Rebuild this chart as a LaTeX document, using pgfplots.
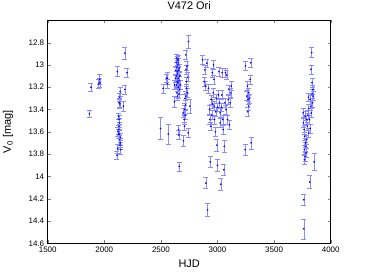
\documentclass[border=0pt]{standalone}
\usepackage{pgfplots}
\usepackage{pgfplotstable}
\pgfplotsset{compat=1.18}
\usepackage{fontspec}
\setmainfont{Liberation Sans}
\pgfplotstableread{
x y e
1868 13.44 0.03
1882 13.20 0.035
1950 13.17 0.04
1958 13.13 0.045
1962 13.16 0.04
2115 13.06 0.045
2182 12.895 0.05
2200 13.07 0.04
2182 13.22 0.04
2168 13.37 0.045
2140 13.24 0.04
2136 13.29 0.04
2130 13.34 0.04
2138 13.35 0.04
2127 13.46 0.03
2130 13.49 0.04
2133 13.52 0.04
2127 13.58 0.04
2124 13.62 0.04
2133 13.62 0.04
2136 13.67 0.04
2139 13.72 0.04
2141 13.70 0.04
2144 13.65 0.04
2121 13.60 0.04
2118 13.75 0.04
2145 13.76 0.04
2112 13.81 0.04
2130 13.55 0.04
2497 13.57 0.10
2520 13.21 0.04
2550 13.12 0.04
2559 13.12 0.05
2556 13.17 0.04
2565 13.62 0.09
2620 13.33 0.05
2620 13.18 0.04
2628 13.12 0.04
2632 13.05 0.04
2635 12.98 0.04
2638 13.10 0.04
2640 12.94 0.04
2642 13.02 0.04
2644 13.15 0.04
2646 12.96 0.04
2648 13.08 0.04
2650 13.00 0.04
2652 13.12 0.04
2654 13.20 0.04
2656 12.98 0.04
2658 13.05 0.04
2660 13.14 0.04
2662 13.03 0.04
2664 13.22 0.04
2636 13.18 0.04
2641 13.25 0.04
2647 13.28 0.04
2653 12.95 0.04
2659 13.26 0.04
2666 13.10 0.04
2670 13.18 0.04
2645 13.06 0.04
2651 13.16 0.04
2656 13.58 0.04
2659 13.63 0.04
2662 13.91 0.04
2697 13.43 0.04
2700 13.68 0.05
2706 13.49 0.04
2708 13.55 0.04
2712 13.30 0.04
2718 13.36 0.04
2720 13.28 0.04
2714 13.45 0.04
2726 13.21 0.04
2726 13.15 0.04
2720 12.91 0.04
2744 12.79 0.06
2738 13.11 0.04
2741 13.61 0.04
2756 13.37 0.06
2730 13.01 0.04
2722 13.04 0.04
2733 13.25 0.04
2710 13.40 0.04
2868 12.955 0.04
2888 13.045 0.04
2882 13.15 0.04
2894 13.19 0.04
2906 12.985 0.04
2920 13.21 0.04
2897 14.06 0.05
2912 14.30 0.06
2935 13.87 0.05
2929 13.40 0.04
2932 13.49 0.04
2941 13.55 0.04
2944 13.31 0.04
2953 13.07 0.04
2965 13.00 0.04
2968 13.13 0.04
2962 13.25 0.04
2970 13.37 0.04
2974 13.49 0.04
2982 13.60 0.04
2994 13.72 0.05
3000 13.90 0.05
3012 13.06 0.04
3008 13.27 0.04
3018 13.34 0.04
3024 13.43 0.04
3029 14.07 0.05
3041 13.07 0.04
3047 13.49 0.04
3050 13.58 0.04
3056 13.94 0.05
3059 13.73 0.05
3065 13.34 0.04
3070 13.07 0.04
3074 13.40 0.04
3082 13.09 0.04
3088 13.49 0.04
3094 13.31 0.04
3100 13.22 0.04
3106 13.54 0.04
3112 13.34 0.04
3118 13.25 0.04
3122 13.19 0.04
3024 13.52 0.04
3038 13.27 0.04
2950 13.45 0.04
2958 13.35 0.04
2985 13.42 0.04
2990 13.30 0.04
3002 13.38 0.04
3035 13.38 0.04
3244 13.76 0.05
3297 13.70 0.055
3247 13.01 0.04
3294 12.98 0.04
3288 13.13 0.04
3265 13.19 0.04
3276 13.25 0.04
3270 13.31 0.04
3282 13.30 0.04
3276 13.37 0.04
3268 13.42 0.04
3260 13.28 0.04
3762 14.21 0.05
3762 14.47 0.09
3815 14.05 0.06
3853 13.87 0.075
3832 12.89 0.045
3826 13.04 0.04
3835 13.16 0.04
3818 13.31 0.04
3803 13.29 0.04
3824 13.37 0.04
3812 13.49 0.04
3794 13.55 0.04
3774 13.46 0.04
3759 13.52 0.04
3765 13.58 0.04
3770 13.64 0.04
3776 13.70 0.04
3768 13.76 0.04
3774 13.82 0.04
3782 13.79 0.04
3788 13.67 0.04
3756 13.43 0.04
3806 13.61 0.04
3818 13.57 0.04
3830 13.43 0.04
3841 13.34 0.04
3847 13.28 0.04
3835 13.26 0.04
3806 13.39 0.04
3788 13.49 0.04
3768 13.85 0.04
3780 13.73 0.04
3798 13.45 0.04
3842 13.22 0.04
}\datatable
\begin{document}
\begin{tikzpicture}
\useasboundingbox (-47.7bp,-31.7bp) rectangle (318.3bp,243.3bp);
\begin{axis}[
  at={(0,0)}, anchor=south west,
  scale only axis, width=283bp, height=223bp,
  xmin=1500, xmax=4000, ymin=12.6, ymax=14.6,
  y dir=reverse,
  xtick={1500,2000,2500,3000,3500,4000},
  ytick={12.8,13,13.2,13.4,13.6,13.8,14,14.2,14.4,14.6},
  scaled x ticks=false,
  /pgf/number format/1000 sep={},
  /pgf/number format/assume math mode=true,
  tick label style={font=\fontsize{8}{9}\selectfont},
  tick align=inside, major tick length=3bp,
  axis line style={black, line width=0.5pt},
  title={V472 Ori},
  title style={font=\fontsize{11}{12}\selectfont, at={(axis description cs:0.5,1.0238)}, anchor=base},
  xlabel={HJD},
  xlabel style={font=\fontsize{11}{12}\selectfont, at={(axis description cs:0.5,-0.1063)}, anchor=base},
  ylabel={V\textsubscript{0} [mag]},
  ylabel style={font=\fontsize{11}{12}\selectfont, at={(axis description cs:-0.14,0.5)}, anchor=center},
]
\addplot[only marks, mark=*, mark size=0.6pt, color=blue,
  error bars/.cd, y dir=both, y explicit,
  error bar style={color=blue!45, line width=0.5pt},
  error mark options={color=blue!45, mark size=2.5bp, line width=0.5pt, rotate=90}]
  table[x=x, y=y, y error=e] {\datatable};
\end{axis}
\end{tikzpicture}
\end{document}
